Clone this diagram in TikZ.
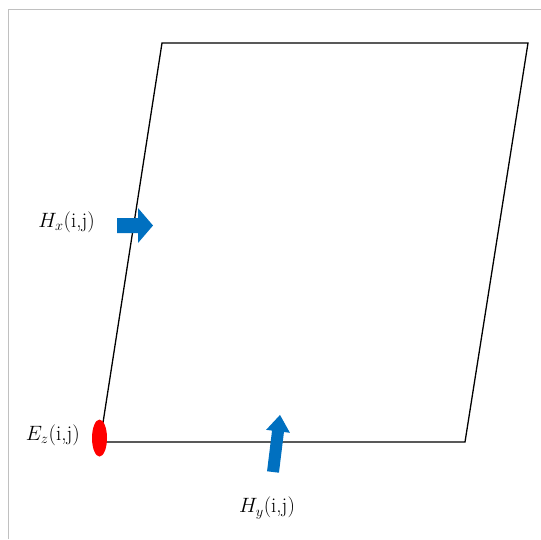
\documentclass[tikz,border=0pt]{standalone}
\usepackage{tikz}
\usetikzlibrary{calc,shapes.geometric}

\definecolor{fieldblue}{RGB}{0,112,192}
\definecolor{framegray}{RGB}{192,192,192}

\begin{document}
\begin{tikzpicture}[
  x=1pt, y=-1pt,
  cell/.style={draw, line width=1.3pt, line join=miter},
  fld/.style={fill=fieldblue, draw=none},
  lbl/.style={font=\fontsize{21}{24}\selectfont, inner sep=0pt},
  node distance=0.38cm
]

\useasboundingbox (0,0) rectangle (541,539);

% frame edges
\draw[framegray, line width=1pt] (8,539) -- (8,9.5) -- (541,9.5);

% grid cell
\coordinate (bl) at (100,442);
\coordinate (br) at (465,442);
\coordinate (tr) at (528,43);
\coordinate (tl) at (162,43);
\draw[cell] (bl) -- (br) -- (tr) -- (tl) -- cycle;

% E_z at the corner
\node[fill=red, ellipse, minimum width=15pt, minimum height=37pt, inner sep=0pt] (ez) at (99.5,438) {};
\node[lbl, anchor=east] (ezlbl) at (80,435) {$E_z$(i,j)};

% H_x arrow
\fill[fld] (117,218) -- (138,218) -- (138,208) -- (153,225.5) -- (138,243) -- (138,233) -- (117,233) -- cycle;
\node[lbl, anchor=east] (hxlbl) at (95,222) {$H_x$(i,j)};

% H_y arrow
\begin{scope}[shift={(273,472)}, rotate=83]
  \fill[fld] (0,-6) -- (41,-6) -- (41,-12) -- (57.5,0) -- (41,12) -- (41,6) -- (0,6) -- cycle;
\end{scope}
\node[lbl] (hylbl) at (267,508) {$H_y$(i,j)};

\end{tikzpicture}
\end{document}
